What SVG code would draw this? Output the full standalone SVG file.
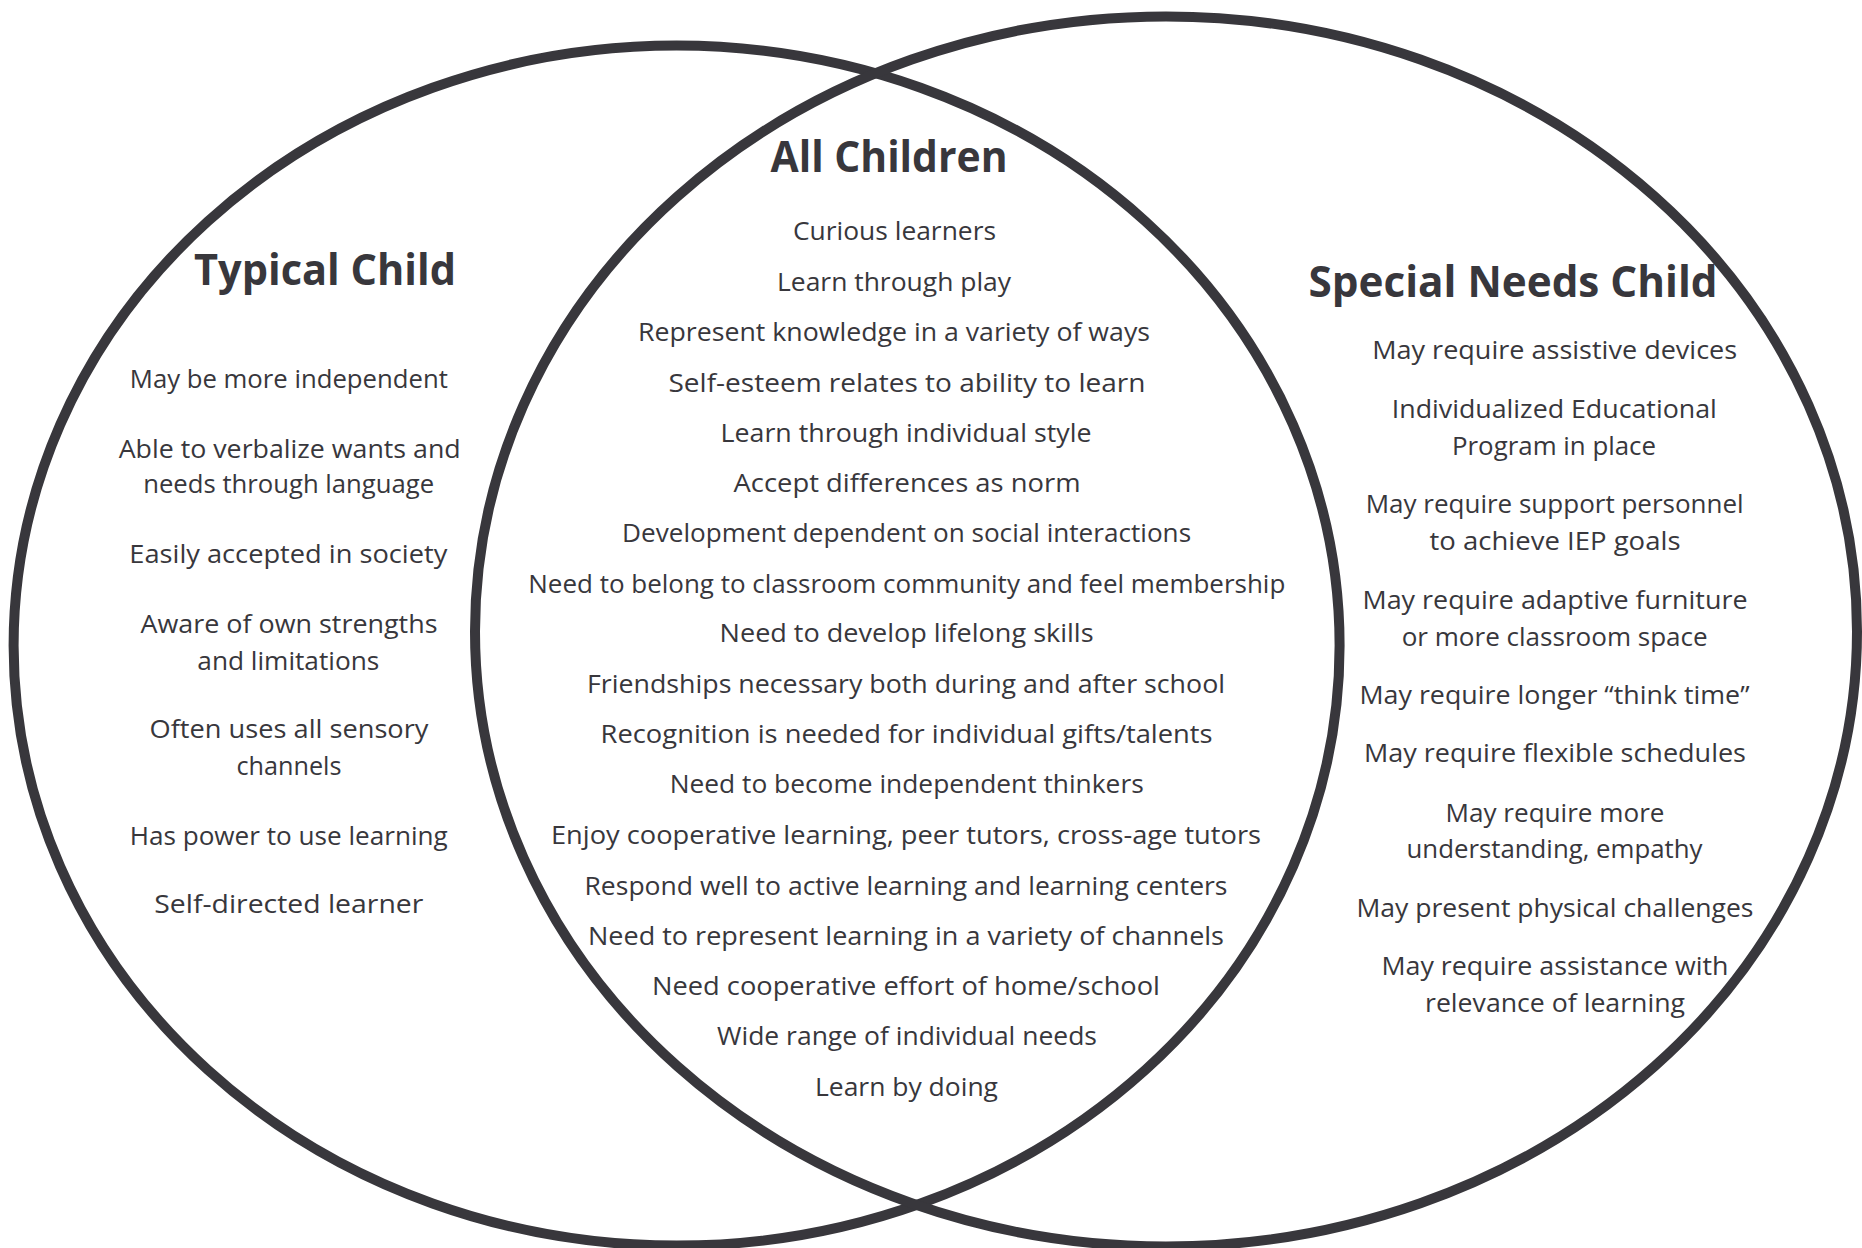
<svg xmlns="http://www.w3.org/2000/svg" width="1862" height="1248" viewBox="0 0 1862 1248">
  <style>
    .ring { fill: none; stroke: #38373c; stroke-width: 10; }
    text { font-family: "Comic Sans MS", "Open Sans", "DejaVu Sans", sans-serif; fill: #38373c; text-anchor: middle; }
    .title { font-size: 43px; font-weight: bold; }
    .item { font-size: 25.5px; }
  </style>
  <rect x="0" y="0" width="1862" height="1248" fill="#ffffff"/>

  <g id="connectors">
    <ellipse id="ring-typical" class="ring" cx="676.6" cy="645.6" rx="663" ry="600"/>
    <ellipse id="ring-special" class="ring" cx="1166" cy="631.4" rx="691" ry="615"/>
  </g>

  <g id="typical-child">
    <text class="title" x="325" y="285" textLength="262" lengthAdjust="spacingAndGlyphs">Typical Child</text>
    <text class="item" x="288.8" y="388.3" textLength="318" lengthAdjust="spacingAndGlyphs">May be more independent</text>
    <text class="item" x="289.7" y="457.7" textLength="342" lengthAdjust="spacingAndGlyphs">Able to verbalize wants and</text>
    <text class="item" x="288.7" y="493.3" textLength="291" lengthAdjust="spacingAndGlyphs">needs through language</text>
    <text class="item" x="288.3" y="563.3" textLength="318" lengthAdjust="spacingAndGlyphs">Easily accepted in society</text>
    <text class="item" x="289" y="633" textLength="297" lengthAdjust="spacingAndGlyphs">Aware of own strengths</text>
    <text class="item" x="288.3" y="670" textLength="182" lengthAdjust="spacingAndGlyphs">and limitations</text>
    <text class="item" x="289" y="738.3" textLength="279" lengthAdjust="spacingAndGlyphs">Often uses all sensory</text>
    <text class="item" x="289" y="775" textLength="105" lengthAdjust="spacingAndGlyphs">channels</text>
    <text class="item" x="288.7" y="845" textLength="318" lengthAdjust="spacingAndGlyphs">Has power to use learning</text>
    <text class="item" x="288.8" y="913.3" textLength="269" lengthAdjust="spacingAndGlyphs">Self-directed learner</text>
  </g>

  <g id="all-children">
    <text class="title" x="889" y="171.7" textLength="237" lengthAdjust="spacingAndGlyphs">All Children</text>
    <text class="item" x="894.5" y="240" textLength="203" lengthAdjust="spacingAndGlyphs">Curious learners</text>
    <text class="item" x="894" y="291" textLength="234" lengthAdjust="spacingAndGlyphs">Learn through play</text>
    <text class="item" x="894" y="340.7" textLength="512" lengthAdjust="spacingAndGlyphs">Represent knowledge in a variety of ways</text>
    <text class="item" x="907" y="391.7" textLength="477" lengthAdjust="spacingAndGlyphs">Self-esteem relates to ability to learn</text>
    <text class="item" x="906" y="441.7" textLength="371" lengthAdjust="spacingAndGlyphs">Learn through individual style</text>
    <text class="item" x="907" y="492.3" textLength="347" lengthAdjust="spacingAndGlyphs">Accept differences as norm</text>
    <text class="item" x="906.6" y="542.3" textLength="569" lengthAdjust="spacingAndGlyphs">Development dependent on social interactions</text>
    <text class="item" x="906.8" y="592.7" textLength="757" lengthAdjust="spacingAndGlyphs">Need to belong to classroom community and feel membership</text>
    <text class="item" x="906.6" y="641.7" textLength="374" lengthAdjust="spacingAndGlyphs">Need to develop lifelong skills</text>
    <text class="item" x="906" y="692.7" textLength="638" lengthAdjust="spacingAndGlyphs">Friendships necessary both during and after school</text>
    <text class="item" x="906.6" y="743.3" textLength="612" lengthAdjust="spacingAndGlyphs">Recognition is needed for individual gifts/talents</text>
    <text class="item" x="906.7" y="793.3" textLength="474" lengthAdjust="spacingAndGlyphs">Need to become independent thinkers</text>
    <text class="item" x="906" y="844" textLength="710" lengthAdjust="spacingAndGlyphs">Enjoy cooperative learning, peer tutors, cross-age tutors</text>
    <text class="item" x="906" y="895" textLength="643" lengthAdjust="spacingAndGlyphs">Respond well to active learning and learning centers</text>
    <text class="item" x="906" y="945" textLength="636" lengthAdjust="spacingAndGlyphs">Need to represent learning in a variety of channels</text>
    <text class="item" x="906" y="995" textLength="508" lengthAdjust="spacingAndGlyphs">Need cooperative effort of home/school</text>
    <text class="item" x="907" y="1045" textLength="380" lengthAdjust="spacingAndGlyphs">Wide range of individual needs</text>
    <text class="item" x="906.5" y="1096" textLength="183" lengthAdjust="spacingAndGlyphs">Learn by doing</text>
  </g>

  <g id="special-needs-child">
    <text class="title" x="1513" y="296.7" textLength="409" lengthAdjust="spacingAndGlyphs">Special Needs Child</text>
    <text class="item" x="1554.7" y="359.3" textLength="365" lengthAdjust="spacingAndGlyphs">May require assistive devices</text>
    <text class="item" x="1554.3" y="418.3" textLength="325" lengthAdjust="spacingAndGlyphs">Individualized Educational</text>
    <text class="item" x="1554" y="455" textLength="204" lengthAdjust="spacingAndGlyphs">Program in place</text>
    <text class="item" x="1554.7" y="513.3" textLength="378" lengthAdjust="spacingAndGlyphs">May require support personnel</text>
    <text class="item" x="1555" y="550" textLength="251" lengthAdjust="spacingAndGlyphs">to achieve IEP goals</text>
    <text class="item" x="1555" y="609.3" textLength="385" lengthAdjust="spacingAndGlyphs">May require adaptive furniture</text>
    <text class="item" x="1554.7" y="646" textLength="306" lengthAdjust="spacingAndGlyphs">or more classroom space</text>
    <text class="item" x="1554.5" y="704" textLength="390" lengthAdjust="spacingAndGlyphs">May require longer “think time”</text>
    <text class="item" x="1555" y="761.7" textLength="382" lengthAdjust="spacingAndGlyphs">May require flexible schedules</text>
    <text class="item" x="1555" y="821.7" textLength="219" lengthAdjust="spacingAndGlyphs">May require more</text>
    <text class="item" x="1554.5" y="858.3" textLength="296" lengthAdjust="spacingAndGlyphs">understanding, empathy</text>
    <text class="item" x="1555" y="916.7" textLength="397" lengthAdjust="spacingAndGlyphs">May present physical challenges</text>
    <text class="item" x="1555" y="975" textLength="347" lengthAdjust="spacingAndGlyphs">May require assistance with</text>
    <text class="item" x="1555" y="1011.7" textLength="260" lengthAdjust="spacingAndGlyphs">relevance of learning</text>
  </g>
</svg>
